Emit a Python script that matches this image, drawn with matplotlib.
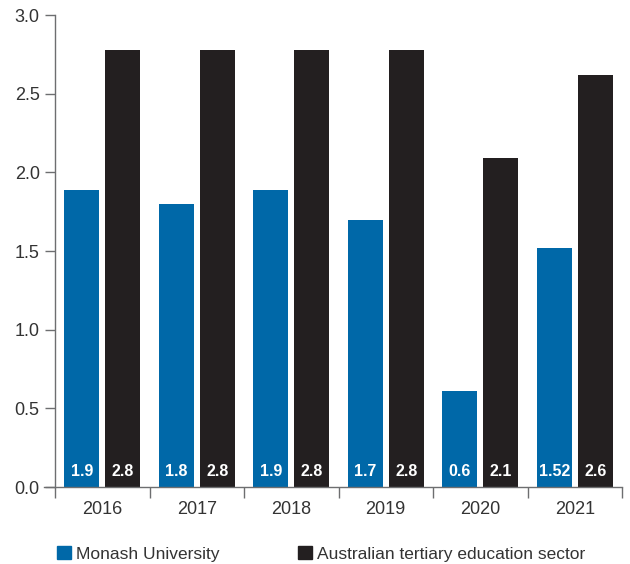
import matplotlib.pyplot as plt
from matplotlib.patches import Patch
import numpy as np

years = ['2016', '2017', '2018', '2019', '2020', '2021']
monash = [1.89, 1.80, 1.89, 1.70, 0.61, 1.52]
sector = [2.78, 2.78, 2.78, 2.78, 2.09, 2.62]
monash_labels = ['1.9', '1.8', '1.9', '1.7', '0.6', '1.52']
sector_labels = ['2.8', '2.8', '2.8', '2.8', '2.1', '2.6']
series_names = ['Monash University', 'Australian tertiary education sector']

blue = '#0068a8'
dark = '#231f20'
grey = '#6d6e70'
txt = '#333333'

plt.rcParams['font.family'] = ['Liberation Sans', 'DejaVu Sans']

fig = plt.figure(figsize=(6.3, 5.64), dpi=100)
ax = fig.add_axes([55/630, 1 - 487/564, 567/630, 472/564])

x = np.arange(len(years))
w = 0.37
off = 0.217
ax.bar(x - off, monash, w, color=blue)
ax.bar(x + off, sector, w, color=dark)

# value labels at the foot of each bar
for i in range(len(years)):
    ax.text(x[i] - off, 0.1, monash_labels[i], color='white', fontsize=11.5,
            fontweight='bold', ha='center', va='center')
    ax.text(x[i] + off, 0.1, sector_labels[i], color='white', fontsize=11.5,
            fontweight='bold', ha='center', va='center')

ax.set_xlim(-0.5, len(years) - 0.5)
ax.set_ylim(0, 3.0)
ax.set_yticks(np.arange(0, 3.01, 0.5))
ax.set_yticklabels([f'{v:.1f}' for v in np.arange(0, 3.01, 0.5)])

# year labels between boundary ticks
ax.set_xticks(np.arange(-0.5, len(years)), minor=False)
ax.set_xticklabels([])
ax.set_xticks(x, minor=True)
ax.set_xticklabels(years, minor=True)
ax.tick_params(axis='x', which='major', length=8, color=grey, width=1, direction='out')
ax.tick_params(axis='x', which='minor', length=0, pad=10, labelsize=13, labelcolor=txt)
ax.tick_params(axis='y', length=7, color=grey, width=1, labelsize=13, labelcolor=txt, pad=4)

for s in ['top', 'right']:
    ax.spines[s].set_visible(False)
for s in ['left', 'bottom']:
    ax.spines[s].set_color(grey)
    ax.spines[s].set_linewidth(1)
ax.spines['bottom'].set_bounds(-0.62, len(years) - 0.5)

handles = [Patch(color=blue), Patch(color=dark)]
fig.legend(handles, series_names, loc='center left', bbox_to_anchor=(57/630, 1 - 554/564),
           ncol=2, frameon=False, fontsize=12.5, labelcolor=txt, handlelength=0.8,
           handleheight=0.8, handletextpad=0.3, columnspacing=4.5, borderaxespad=0,
           borderpad=0)

fig.savefig('out.png', dpi=100)
